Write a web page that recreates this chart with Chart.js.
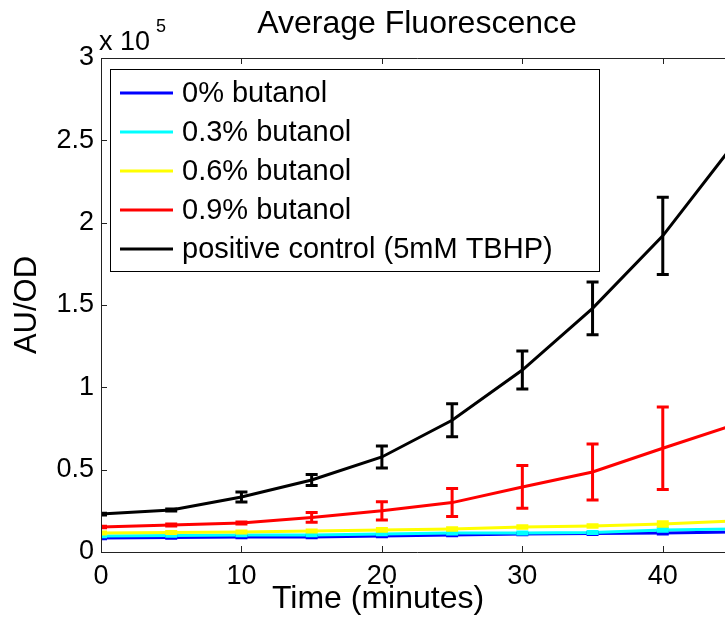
<!DOCTYPE html>
<html>
<head>
<meta charset="utf-8">
<script src="https://cdn.jsdelivr.net/npm/chart.js@4/dist/chart.umd.min.js"></script>
<style>
  html, body { margin: 0; padding: 0; background: #fff; overflow: hidden; }
  #wrap { width: 725px; height: 617px; overflow: hidden; }
  #box { width: 760px; height: 617px; }
</style>
</head>
<body>
<div id="wrap"><div id="box"><canvas id="chart"></canvas></div></div>
<script>
// time points (minutes)
const times = [0, 5, 10, 15, 20, 25, 30, 35, 40, 45];

// mean AU/OD, in units of 1e5
const butanol0  = [0.085, 0.088, 0.091, 0.091, 0.097, 0.103, 0.109, 0.112, 0.115, 0.121];
const butanol03 = [0.097, 0.100, 0.103, 0.103, 0.109, 0.115, 0.115, 0.118, 0.134, 0.140];
const butanol06 = [0.115, 0.118, 0.121, 0.128, 0.134, 0.140, 0.152, 0.158, 0.170, 0.188];
const butanol09 = [0.152, 0.164, 0.176, 0.210, 0.250, 0.300, 0.395, 0.486, 0.630, 0.770];
const tbhp      = [0.230, 0.255, 0.334, 0.437, 0.577, 0.800, 1.105, 1.480, 1.920, 2.470];

// error bar half-heights, units of 1e5
const err0  = [0.004, 0.004, 0.004, 0.004, 0.004, 0.004, 0.004, 0.005, 0.005, 0.005];
const err03 = [0.005, 0.005, 0.005, 0.005, 0.005, 0.005, 0.006, 0.006, 0.008, 0.008];
const err06 = [0.006, 0.006, 0.006, 0.006, 0.008, 0.008, 0.008, 0.008, 0.014, 0.015];
const err09 = [0.005, 0.006, 0.006, 0.030, 0.055, 0.085, 0.130, 0.170, 0.250, 0.300];
const errT  = [0.006, 0.006, 0.030, 0.033, 0.067, 0.100, 0.115, 0.160, 0.235, 0.250];

const labels = ['0% butanol', '0.3% butanol', '0.6% butanol', '0.9% butanol', 'positive control (5mM TBHP)'];
const colors = ['#0000ff', '#00ffff', '#ffff00', '#ff0000', '#000000'];
const means = [butanol0, butanol03, butanol06, butanol09, tbhp];
const errs = [err0, err03, err06, err09, errT];

const yTicks = [0, 0.5, 1, 1.5, 2, 2.5, 3];
const xTicks = [0, 10, 20, 30, 40];

const SCALE = 1e5;
const FONT = "'Liberation Sans', Arial, Helvetica, sans-serif";

const datasets = means.map((m, i) => ({
    label: labels[i],
    data: m.map((v, j) => ({ x: times[j], y: v * SCALE })),
    errors: errs[i].map(e => e * SCALE),
    borderColor: colors[i],
    backgroundColor: colors[i],
    borderWidth: 3,
    pointRadius: 0,
    tension: 0,
    order: 4 - i
}));

// error bars, frame, inward ticks, legend box and all texts
const matlabLook = {
    id: 'matlabLook',
    afterDatasetsDraw(chart) {
        const ctx = chart.ctx;
        const xs = chart.scales.x, ys = chart.scales.y;
        const a = chart.chartArea;
        ctx.save();
        ctx.beginPath();
        ctx.rect(a.left, a.top, a.right - a.left, a.bottom - a.top);
        ctx.clip();
        ctx.lineWidth = 3;
        chart.data.datasets.forEach(ds => {
            ctx.strokeStyle = ds.borderColor;
            ds.data.forEach((p, j) => {
                const px = xs.getPixelForValue(p.x);
                const top = ys.getPixelForValue(p.y + ds.errors[j]);
                const bot = ys.getPixelForValue(p.y - ds.errors[j]);
                ctx.beginPath();
                ctx.moveTo(px, top); ctx.lineTo(px, bot);
                ctx.moveTo(px - 6, top); ctx.lineTo(px + 6, top);
                ctx.moveTo(px - 6, bot); ctx.lineTo(px + 6, bot);
                ctx.stroke();
            });
        });
        ctx.restore();
    },
    afterDraw(chart) {
        const ctx = chart.ctx;
        const xs = chart.scales.x, ys = chart.scales.y;
        const a = chart.chartArea;
        ctx.save();
        // frame
        ctx.strokeStyle = '#222';
        ctx.lineWidth = 1;
        ctx.beginPath();
        ctx.moveTo(a.right, a.top + 0.5); ctx.lineTo(a.left + 0.5, a.top + 0.5);
        ctx.lineTo(a.left + 0.5, a.bottom + 0.5); ctx.lineTo(a.right, a.bottom + 0.5);
        ctx.stroke();
        // inward ticks
        ctx.beginPath();
        xTicks.forEach(t => {
            const px = Math.round(xs.getPixelForValue(t)) + 0.5;
            ctx.moveTo(px, a.bottom); ctx.lineTo(px, a.bottom - 6);
            ctx.moveTo(px, a.top); ctx.lineTo(px, a.top + 6);
        });
        yTicks.forEach(t => {
            const py = Math.round(ys.getPixelForValue(t * SCALE)) + 0.5;
            ctx.moveTo(a.left, py); ctx.lineTo(a.left + 6, py);
        });
        ctx.stroke();

        // legend box
        const lx = 110, ly = 69, lw = 489, lh = 202;
        ctx.fillStyle = '#fff';
        ctx.fillRect(lx, ly, lw, lh);
        ctx.strokeStyle = '#000';
        ctx.strokeRect(lx + 0.5, ly + 0.5, lw, lh);
        ctx.font = '29px ' + FONT;
        ctx.textBaseline = 'middle';
        ctx.textAlign = 'left';
        labels.forEach((lab, i) => {
            const ry = 93 + i * 39;
            ctx.strokeStyle = colors[i];
            ctx.lineWidth = 3;
            ctx.beginPath();
            ctx.moveTo(120, ry); ctx.lineTo(173, ry);
            ctx.stroke();
            ctx.fillStyle = '#000';
            ctx.fillText(lab, 182, ry + 1);
        });

        // texts
        ctx.fillStyle = '#000';
        ctx.textAlign = 'center';
        ctx.textBaseline = 'alphabetic';
        ctx.font = '32px ' + FONT;
        ctx.fillText('Average Fluorescence', (a.left + a.right) / 2, 33);
        ctx.fillText('Time (minutes)', 378, 608);
        ctx.font = '31px ' + FONT;
        ctx.save();
        ctx.translate(36, (a.top + a.bottom) / 2);
        ctx.rotate(-Math.PI / 2);
        ctx.fillText('AU/OD', 0, 0);
        ctx.restore();
        // exponent label
        ctx.textAlign = 'left';
        ctx.font = '27px ' + FONT;
        ctx.fillText('x 10', 99, 50);
        ctx.font = '18px ' + FONT;
        ctx.fillText('5', 156, 32);
        ctx.restore();
    }
};

new Chart(document.getElementById('chart'), {
    type: 'line',
    data: { datasets: datasets },
    options: {
        responsive: true,
        maintainAspectRatio: false,
        animation: false,
        layout: { padding: { top: 58, right: 27, left: 0, bottom: 0 } },
        scales: {
            x: {
                type: 'linear',
                min: 0,
                max: 45,
                grid: { display: false, drawTicks: false },
                border: { display: false },
                ticks: {
                    stepSize: 10,
                    includeBounds: false,
                    padding: 8,
                    color: '#000',
                    font: { size: 27, family: FONT },
                    maxRotation: 0
                },
                afterFit: s => { s.height = 65; }
            },
            y: {
                min: 0,
                max: 3 * SCALE,
                grid: { display: false, drawTicks: false },
                border: { display: false },
                ticks: {
                    stepSize: 0.5 * SCALE,
                    padding: 7,
                    color: '#000',
                    font: { size: 27, family: FONT },
                    callback: v => String(v / SCALE)
                },
                afterFit: s => { s.width = 101; }
            }
        },
        plugins: {
            legend: { display: false },
            tooltip: { enabled: false }
        }
    },
    plugins: [matlabLook]
});
</script>
</body>
</html>
